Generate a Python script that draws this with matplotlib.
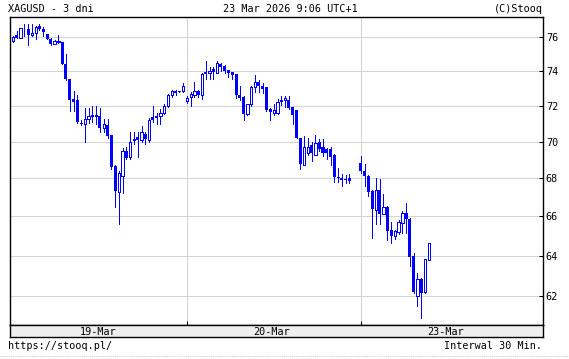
import matplotlib
matplotlib.use("Agg")
import matplotlib.pyplot as plt
from matplotlib.lines import Line2D
from matplotlib.ticker import FixedLocator, NullLocator, FixedFormatter

# ---------------- data ----------------
slots = list(range(0, 46)) + list(range(46, 90)) + list(range(92, 111))

opens = [75.75, 76.10, 75.95, 76.50, 76.50, 76.10, 76.25, 76.65, 76.50, 76.20,
         75.90, 75.60, 75.70, 75.70, 74.40, 73.50, 72.40, 72.30, 71.05, 71.00,
         71.25, 71.45, 71.45, 71.40, 70.75, 70.90, 70.35, 68.65, 67.30, 68.15,
         69.50, 69.15, 70.10, 70.25, 70.10, 70.40, 70.10, 71.35, 71.40, 71.40,
         71.60, 72.00, 72.60, 72.85, 72.80, 72.85,
         72.25, 72.50, 72.60, 72.85, 72.60, 73.95, 73.85, 74.10, 73.90, 74.40,
         74.30, 74.05, 73.95, 73.80, 72.60, 72.50, 71.55, 72.10, 73.05, 73.35,
         73.10, 73.05, 71.80, 71.60, 71.60, 72.35, 72.30, 72.30, 71.95, 71.75,
         70.20, 68.70, 69.40, 69.80, 69.25, 70.00, 69.70, 69.60, 69.60, 69.25,
         68.10, 68.00, 67.95, 68.00,
         68.85, 68.40, 68.15, 67.35, 66.35, 67.40, 66.15, 66.50, 65.30, 65.00,
         65.20, 65.65, 66.20, 65.85, 64.00, 62.00, 62.85, 62.20, 63.80]
highs = [76.05, 76.35, 76.55, 76.75, 76.75, 76.75, 76.65, 76.75, 76.60, 76.20,
         75.95, 75.80, 76.10, 75.70, 75.00, 73.55, 72.85, 72.60, 71.20, 71.85,
         71.85, 72.00, 72.00, 71.85, 71.25, 71.25, 70.35, 68.70, 68.40, 69.65,
         69.70, 70.50, 70.55, 70.50, 70.85, 70.50, 71.30, 72.00, 71.60, 71.80,
         72.10, 72.65, 72.90, 72.90, 72.82, 73.30,
         72.55, 72.80, 73.35, 72.90, 73.90, 74.55, 74.25, 74.20, 74.55, 74.45,
         74.32, 74.05, 73.95, 73.80, 73.10, 72.55, 72.10, 73.10, 73.75, 73.45,
         73.30, 73.05, 71.85, 72.10, 72.40, 72.55, 72.55, 72.55, 71.95, 71.75,
         70.20, 70.30, 70.20, 69.95, 70.35, 70.15, 70.15, 69.65, 69.70, 69.30,
         68.55, 68.25, 68.20, 68.25,
         69.20, 68.80, 68.20, 67.40, 68.00, 67.95, 67.15, 66.55, 65.70, 65.30,
         65.80, 66.30, 66.70, 65.90, 64.15, 63.15, 62.90, 63.85, 64.65]
lows = [75.70, 75.95, 75.95, 76.05, 75.50, 76.05, 75.85, 76.40, 76.05, 75.85,
        75.50, 75.55, 75.65, 74.40, 73.45, 71.70, 71.70, 71.05, 70.90, 70.00,
        71.05, 71.10, 71.00, 70.50, 70.50, 70.20, 68.50, 66.50, 65.60, 67.20,
        69.05, 69.05, 69.85, 69.15, 70.00, 69.85, 70.00, 71.10, 71.00, 71.00,
        71.55, 71.90, 72.50, 72.60, 72.78, 72.80,
        72.15, 72.00, 72.50, 72.50, 72.40, 73.50, 73.50, 73.55, 73.85, 74.00,
        73.90, 73.65, 73.55, 72.45, 72.30, 71.20, 71.45, 72.00, 72.80, 72.80,
        72.75, 71.70, 71.20, 71.45, 71.55, 72.05, 71.90, 71.80, 70.95, 70.20,
        68.50, 68.70, 69.25, 68.95, 69.25, 69.50, 69.20, 69.05, 68.70, 67.80,
        67.80, 67.60, 67.75, 67.75,
        68.30, 67.60, 67.05, 64.90, 65.60, 65.60, 66.10, 64.80, 64.65, 64.85,
        65.10, 65.15, 65.15, 63.50, 62.15, 61.50, 60.95, 62.15, 63.80]
closes = [76.00, 75.95, 76.55, 76.45, 76.10, 76.25, 76.60, 76.50, 76.30, 75.90,
          75.60, 75.75, 75.72, 74.40, 73.50, 72.35, 72.20, 71.10, 70.95, 71.25,
          71.40, 71.35, 71.38, 70.75, 70.95, 70.30, 68.60, 67.35, 68.30, 69.50,
          69.10, 70.00, 70.15, 70.10, 70.50, 70.15, 71.20, 71.20, 71.30, 71.60,
          72.00, 72.60, 72.85, 72.75, 72.80, 73.10,
          72.45, 72.65, 72.85, 72.60, 73.80, 73.80, 74.00, 73.95, 74.45, 74.25,
          74.00, 73.85, 73.75, 72.60, 72.45, 71.55, 72.10, 73.05, 73.35, 73.10,
          72.95, 71.75, 71.65, 71.75, 72.20, 72.20, 72.45, 71.85, 71.45, 70.20,
          68.75, 69.70, 69.70, 69.35, 69.90, 69.60, 69.35, 69.35, 69.15, 68.05,
          68.00, 67.90, 67.95, 67.85,
          68.40, 68.15, 67.30, 66.40, 67.40, 66.15, 66.50, 65.25, 65.00, 65.25,
          65.70, 66.20, 65.85, 63.95, 62.20, 62.85, 62.15, 63.85, 64.65]

day_labels = ["19-Mar", "20-Mar", "23-Mar"]
day_starts = [0, 46, 92]
y_ticks = [62, 64, 66, 68, 70, 72, 74, 76]

# ---------------- figure ----------------
W, H = 569, 359
DPI = 100
fig = plt.figure(figsize=(W / DPI, H / DPI), dpi=DPI, facecolor="white")
MONO = "DejaVu Sans Mono"
FS = 7.3


def fx(x):
    return x / W


def fy(y):
    return 1 - y / H


ax_l, ax_r, ax_t, ax_b = 10, 543, 17, 325
ax = fig.add_axes([fx(ax_l), fy(ax_b), (ax_r - ax_l) / W, (ax_b - ax_t) / H])
ax.set_yscale("log")
ax.set_ylim(60.6, 77.2)
ax.set_xlim(-0.8, 140.2)

blue = "#0000ff"
up_x, up_lo, up_h = [], [], []
dn_x, dn_lo, dn_h = [], [], []
for s, o, h, l, c in zip(slots, opens, highs, lows, closes):
    lo_b, hi_b = min(o, c), max(o, c)
    if hi_b - lo_b < 0.045:
        mid = (hi_b + lo_b) / 2
        lo_b, hi_b = mid - 0.025, mid + 0.025
    if c > o:
        up_x.append(s); up_lo.append(lo_b); up_h.append(hi_b - lo_b)
    else:
        dn_x.append(s); dn_lo.append(lo_b); dn_h.append(hi_b - lo_b)

ax.vlines(slots, lows, highs, color=blue, linewidth=0.6, zorder=2,
          antialiased=False)
ax.bar(up_x, up_h, bottom=up_lo, width=0.62, facecolor="white",
       edgecolor=blue, linewidth=0.6, zorder=3, antialiased=False)
ax.bar(dn_x, dn_h, bottom=dn_lo, width=0.8, facecolor=blue,
       edgecolor="none", linewidth=0.0, zorder=3, antialiased=False)

# grid
grid_c = "#d4d4d4"
for v in y_ticks:
    ax.axhline(v, color=grid_c, linewidth=0.75, zorder=1)
for d in day_starts[1:]:
    ax.axvline(d, color=grid_c, linewidth=0.75, zorder=1)

ax.yaxis.set_major_locator(FixedLocator(y_ticks))
ax.yaxis.set_major_formatter(FixedFormatter([str(v) for v in y_ticks]))
ax.yaxis.set_minor_locator(NullLocator())
ax.yaxis.tick_right()
ax.tick_params(axis="y", which="major", direction="in", length=3, width=0.75,
               pad=2, labelsize=FS, labelfontfamily=MONO, colors="black")
ax.xaxis.set_major_locator(FixedLocator(day_starts[1:]))
ax.xaxis.set_minor_locator(NullLocator())
ax.tick_params(axis="x", which="major", direction="in", length=3, width=0.75,
               labelbottom=False)
for sp in ax.spines.values():
    sp.set_color("black")
    sp.set_linewidth(1.0)

# date strip
sx = fig.add_axes([fx(ax_l), fy(337), (ax_r - ax_l) / W, 12 / H])
sx.set_facecolor("#eeeeee")
sx.set_xlim(-0.8, 140.2)
sx.set_ylim(0, 1)
sx.set_xticks([])
sx.set_yticks([])
for sp in sx.spines.values():
    sp.set_color("black")
    sp.set_linewidth(1.0)
for lab, d in zip(day_labels, day_starts):
    sx.text(d + 22.5, 0.45, lab, ha="center", va="center",
            fontsize=FS, family=MONO, color="black")

# header / footer texts
fig.text(fx(8), fy(8.5), "XAGUSD - 3 dni", ha="left", va="center",
         fontsize=FS, family=MONO)
fig.text(fx(290.5), fy(8.5), "23 Mar 2026 9:06 UTC+1", ha="center", va="center",
         fontsize=FS, family=MONO)
fig.text(fx(543), fy(8.5), "(C)Stooq", ha="right", va="center",
         fontsize=FS, family=MONO)
fig.text(fx(8), fy(346), "https://stooq.pl/", ha="left", va="center",
         fontsize=FS, family=MONO)
fig.text(fx(542), fy(346), "Interwal 30 Min.", ha="right", va="center",
         fontsize=FS, family=MONO)

fig.add_artist(Line2D([0, 1], [fy(355.5), fy(355.5)], color="#cccccc",
                      linewidth=0.75, linestyle=(0, (1, 1))))

fig.savefig("out.png", dpi=DPI, facecolor="white")
